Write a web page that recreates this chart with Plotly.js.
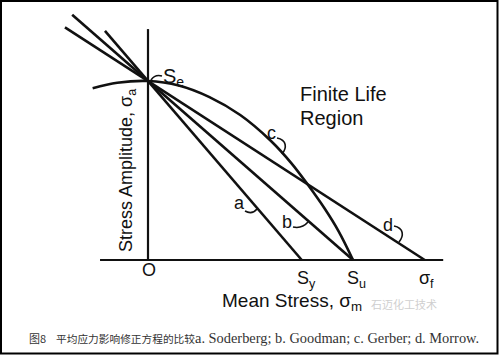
<!DOCTYPE html>
<html>
<head>
<meta charset="utf-8">
<script src="https://cdn.plot.ly/plotly-3.0.1.min.js"></script>
<style>html,body{margin:0;padding:0;background:#fff;}#chart{width:500px;height:356px;}</style>
</head>
<body>
<div id="chart"></div>
<script>
// ---- data (normalised: Se = 1 on the stress-amplitude axis, Su = 1 on the mean-stress axis) ----
var Se = 1.0, Sy = 0.75, Su = 1.0, sigmaF = 1.35;

var soderbergX = [-0.21, 0, Sy];
var soderbergY = [1.28, Se, 0];

var goodmanX = [-0.37, 0, Su];
var goodmanY = [1.37, Se, 0];

var morrowX = [-0.405, 0, sigmaF];
var morrowY = [1.30, Se, 0];

var gerberX = [-0.27, -0.15, 0, 0.15, 0.30, 0.45, 0.60, 0.70, 0.78, 0.86, 0.93, 1.00];
var gerberY = [0.96, 0.99, 1.00, 0.975, 0.91, 0.81, 0.665, 0.54, 0.42, 0.29, 0.16, 0];

var axisMeanX = [-0.234, 1.44];
var axisMeanY = [0, 0];
var axisAmpX = [0, 0];
var axisAmpY = [0, 1.29];

var tickLabels = ['O', 'S<sub>y</sub>', 'S<sub>u</sub>', 'σ<sub>f</sub>'];
var curveLabels = ['a', 'b', 'c', 'd'];
var captionCN = '平均应力影响修正方程的比较';
var captionFig = '图8';
var captionEN = 'a. Soderberg; b. Goodman; c. Gerber; d. Morrow.';

// ---- layout helpers (pixel -> paper) ----
var W = 500, H = 356;
function px(x){ return x / W; }
function py(y){ return 1 - y / H; }
function curve(x0, y0, cx, cy, x1, y1){
  return 'M' + px(x0) + ',' + py(y0) + ' Q' + px(cx) + ',' + py(cy) + ' ' + px(x1) + ',' + py(y1);
}
function cubic(x0, y0, c1x, c1y, c2x, c2y, x1, y1){
  return 'M' + px(x0) + ',' + py(y0) + ' C' + px(c1x) + ',' + py(c1y) + ' ' + px(c2x) + ',' + py(c2y) + ' ' + px(x1) + ',' + py(y1);
}

var lineStyle = {color: '#111', width: 2.6};
var traces = [
  {x: axisAmpX, y: axisAmpY, mode: 'lines', line: {color: '#111', width: 2.2}},
  {x: axisMeanX, y: axisMeanY, mode: 'lines', line: {color: '#111', width: 2.2}},
  {x: soderbergX, y: soderbergY, mode: 'lines', line: lineStyle},
  {x: goodmanX, y: goodmanY, mode: 'lines', line: lineStyle},
  {x: morrowX, y: morrowY, mode: 'lines', line: lineStyle},
  {x: gerberX, y: gerberY, mode: 'lines', line: {color: '#111', width: 2.6, shape: 'spline', smoothing: 1}}
];

var sans = 'Liberation Sans, Arial, sans-serif';
function ann(text, x, y, size, xa, extra){
  var a = {text: text, x: px(x), y: py(y), xref: 'paper', yref: 'paper', showarrow: false,
    xanchor: xa || 'center', yanchor: 'middle', borderpad: 0, font: {family: sans, size: size, color: '#111'}};
  if (extra) for (var k in extra) a[k] = extra[k];
  return a;
}

var annotations = [
  ann('S<sub>e</sub>', 162, 77, 20, 'left'),
  ann('Finite Life', 299, 96, 20, 'left', {yanchor: 'bottom', y: py(106)}),
  ann('Region', 299, 115, 20, 'left', {yanchor: 'top', y: py(106)}),
  ann('Stress Amplitude, σ<sub>a</sub>', 127, 171, 18, 'center', {textangle: -90}),
  ann(tickLabels[0], 149, 270, 18, 'center'),
  ann(tickLabels[1], 296, 279, 18, 'left'),
  ann(tickLabels[2], 346, 279, 18, 'left'),
  ann(tickLabels[3], 418, 279, 18, 'left'),
  ann('Mean Stress, σ<sub>m</sub>', 221, 302, 19, 'left'),
  ann(curveLabels[0], 239, 203, 18, 'center'),
  ann(curveLabels[1], 287, 222, 18, 'center'),
  ann(curveLabels[2], 271, 133, 18, 'center'),
  ann(curveLabels[3], 388, 225, 18, 'center'),
  ann('石迈化工技术', 438, 304, 11, 'right', {font: {family: 'Noto Sans CJK SC', size: 11, color: '#cfcfcf'}}),
  ann(captionFig, 28, 338, 11, 'left', {font: {family: 'Noto Sans CJK SC', size: 11, color: '#333'}}),
  ann(captionCN, 55, 338, 10.7, 'left', {font: {family: 'Noto Sans CJK SC', size: 10.7, color: '#333'}}),
  ann(captionEN, 194, 338, 14.4, 'left', {font: {family: 'Liberation Serif, Times New Roman, serif', size: 14.4, color: '#333'}})
];

var hook = {color: '#111', width: 1.6};
var shapes = [
  {type: 'rect', xref: 'paper', yref: 'paper', x0: px(1), x1: px(497.5), y0: py(353.5), y1: py(1), line: {color: '#000', width: 2}},
  {type: 'path', xref: 'paper', yref: 'paper', path: curve(151, 80, 155, 74, 162, 76), line: hook},
  {type: 'path', xref: 'paper', yref: 'paper', path: curve(245, 211, 252, 215, 257, 209), line: hook},
  {type: 'path', xref: 'paper', yref: 'paper', path: curve(293, 227, 302, 229, 308, 222), line: hook},
  {type: 'path', xref: 'paper', yref: 'paper', path: cubic(277, 138, 287, 140, 287, 148, 282, 154), line: hook},
  {type: 'path', xref: 'paper', yref: 'paper', path: cubic(394, 226, 404, 228, 404, 236, 399, 242), line: hook}
];

// axis ranges chosen so that sigma_m = 0 sits at x=148px, Su at 353px; sigma_a = 0 at y=260px, Se at 81px
var layout = {
  width: W, height: H,
  margin: {l: 0, r: 0, t: 0, b: 0},
  paper_bgcolor: '#fff', plot_bgcolor: '#fff',
  showlegend: false,
  xaxis: {range: [-148 / 205, (W - 148) / 205], visible: false, fixedrange: true},
  yaxis: {range: [-(H - 260) / 179, 260 / 179], visible: false, fixedrange: true},
  annotations: annotations,
  shapes: shapes
};

Plotly.newPlot('chart', traces, layout, {displayModeBar: false, staticPlot: true});
</script>
</body>
</html>
